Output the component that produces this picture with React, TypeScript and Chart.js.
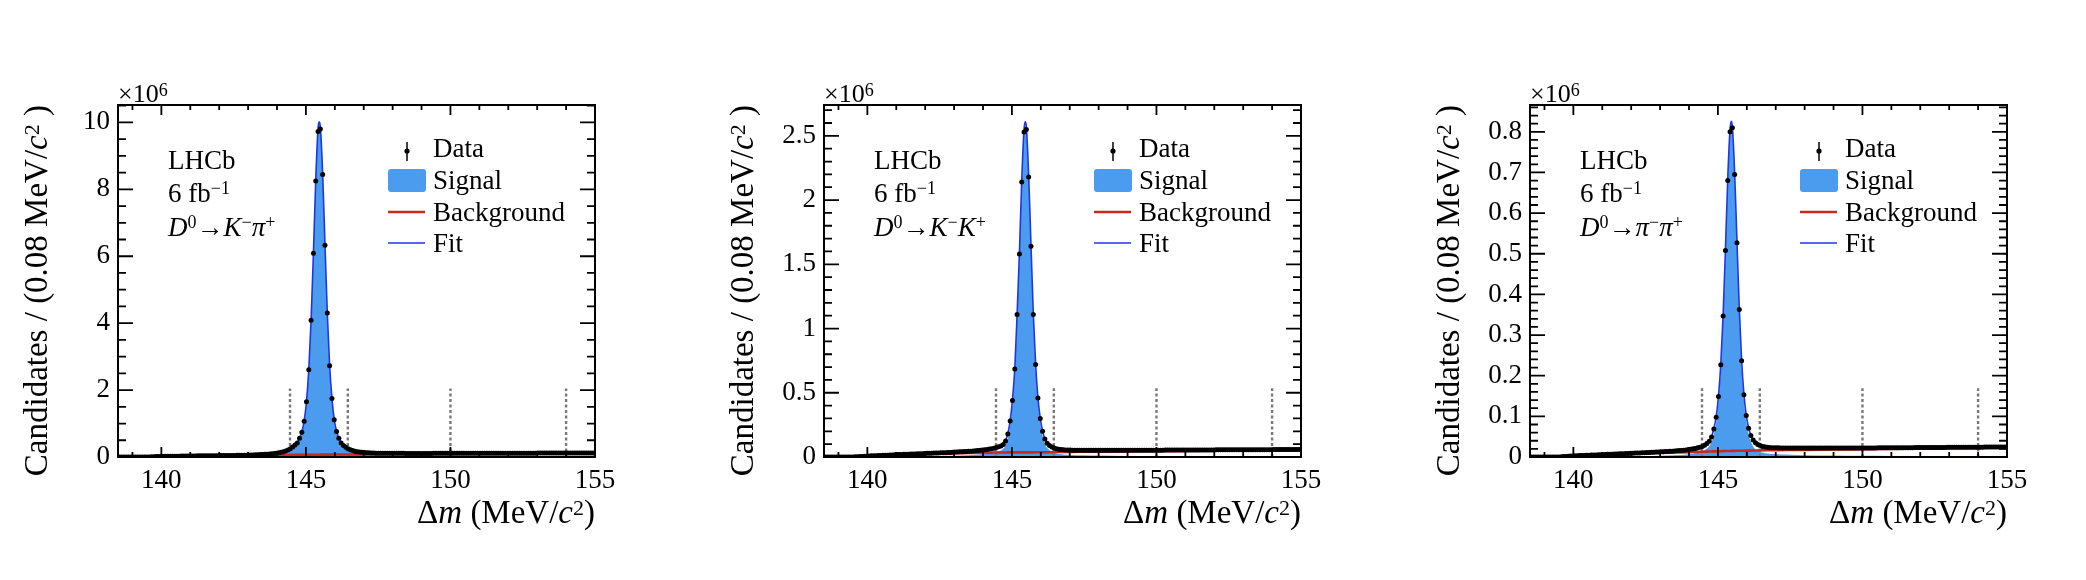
import React, { useEffect, useRef } from 'react';
import { Chart, registerables } from 'chart.js';

Chart.register(...registerables);

// ---------- data (candidates per 0.08 MeV/c^2, in units of 10^6) ----------
const BIN_START = 138.54;
const BIN_WIDTH = 0.08;
const X_MIN = 138.5;
const X_MAX = 155;
const X_TICKS = [140, 145, 150, 155];
const CUT_LINES = [144.45, 146.45, 150, 154];

const DATA_KPI = [
  0, 0, 0, 0, 0, 0, 0, 0, 0, 0,
  0, 0, 0, 0.002, 0.006, 0.009, 0.012, 0.014, 0.016, 0.018,
  0.019, 0.021, 0.022, 0.023, 0.024, 0.025, 0.026, 0.027, 0.028, 0.029,
  0.030, 0.031, 0.032, 0.033, 0.034, 0.034, 0.035, 0.036, 0.037, 0.038,
  0.038, 0.039, 0.040, 0.041, 0.042, 0.043, 0.044, 0.045, 0.046, 0.047,
  0.048, 0.049, 0.051, 0.052, 0.054, 0.056, 0.058, 0.060, 0.062, 0.065,
  0.068, 0.071, 0.075, 0.079, 0.084, 0.090, 0.097, 0.105, 0.115, 0.127,
  0.142, 0.160, 0.183, 0.212, 0.250, 0.300, 0.356, 0.420, 0.560, 0.740,
  1.070, 1.650, 2.610, 4.090, 6.090, 8.250, 9.730, 9.800, 8.440, 6.330,
  4.300, 2.730, 1.750, 1.110, 0.760, 0.560, 0.420, 0.345, 0.290, 0.248,
  0.216, 0.192, 0.174, 0.160, 0.149, 0.140, 0.133, 0.128, 0.124, 0.120,
  0.117, 0.115, 0.113, 0.112, 0.112, 0.111, 0.111, 0.110, 0.110, 0.110,
  0.109, 0.109, 0.109, 0.109, 0.108, 0.108, 0.108, 0.108, 0.108, 0.108,
  0.108, 0.108, 0.108, 0.108, 0.108, 0.108, 0.109, 0.109, 0.109, 0.109,
  0.109, 0.109, 0.109, 0.109, 0.109, 0.110, 0.110, 0.110, 0.110, 0.110,
  0.110, 0.110, 0.111, 0.111, 0.111, 0.111, 0.111, 0.111, 0.112, 0.112,
  0.112, 0.112, 0.112, 0.112, 0.113, 0.113, 0.113, 0.113, 0.113, 0.113,
  0.114, 0.114, 0.114, 0.114, 0.114, 0.115, 0.115, 0.115, 0.115, 0.115,
  0.115, 0.116, 0.116, 0.116, 0.116, 0.116, 0.116, 0.116, 0.117, 0.117,
  0.117, 0.117, 0.117, 0.117, 0.117, 0.117, 0.118, 0.118, 0.118, 0.118,
  0.118, 0.119, 0.119, 0.119, 0.119, 0.119,
];

const DATA_KK = [
  0, 0, 0, 0, 0, 0, 0, 0, 0, 0,
  0, 0, 0, 0.001, 0.002, 0.003, 0.004, 0.005, 0.006, 0.008,
  0.009, 0.009, 0.010, 0.011, 0.012, 0.013, 0.013, 0.014, 0.015, 0.016,
  0.017, 0.019, 0.019, 0.020, 0.021, 0.021, 0.022, 0.023, 0.023, 0.024,
  0.025, 0.025, 0.026, 0.027, 0.029, 0.029, 0.030, 0.031, 0.031, 0.032,
  0.033, 0.034, 0.034, 0.035, 0.036, 0.037, 0.038, 0.039, 0.040, 0.041,
  0.042, 0.043, 0.044, 0.045, 0.047, 0.048, 0.050, 0.052, 0.054, 0.057,
  0.059, 0.062, 0.065, 0.069, 0.074, 0.080, 0.086, 0.098, 0.125, 0.180,
  0.280, 0.440, 0.685, 1.110, 1.580, 2.140, 2.530, 2.550, 2.180, 1.640,
  1.110, 0.720, 0.460, 0.300, 0.200, 0.140, 0.108, 0.090, 0.078, 0.070,
  0.065, 0.061, 0.058, 0.056, 0.055, 0.054, 0.054, 0.053, 0.053, 0.053,
  0.053, 0.053, 0.052, 0.052, 0.052, 0.052, 0.052, 0.052, 0.052, 0.052,
  0.052, 0.052, 0.052, 0.052, 0.052, 0.052, 0.052, 0.052, 0.052, 0.052,
  0.052, 0.052, 0.052, 0.053, 0.053, 0.053, 0.053, 0.053, 0.053, 0.053,
  0.053, 0.053, 0.053, 0.053, 0.053, 0.053, 0.053, 0.054, 0.054, 0.054,
  0.054, 0.054, 0.054, 0.054, 0.054, 0.054, 0.054, 0.055, 0.055, 0.055,
  0.055, 0.055, 0.055, 0.055, 0.055, 0.055, 0.055, 0.055, 0.055, 0.056,
  0.056, 0.056, 0.056, 0.056, 0.056, 0.056, 0.056, 0.056, 0.056, 0.056,
  0.056, 0.056, 0.057, 0.057, 0.057, 0.057, 0.057, 0.057, 0.057, 0.057,
  0.057, 0.057, 0.057, 0.057, 0.058, 0.058, 0.058, 0.058, 0.058, 0.058,
  0.058, 0.058, 0.058, 0.058, 0.058, 0.058,
];

const DATA_PIPI = [
  0, 0, 0, 0, 0, 0, 0, 0, 0, 0,
  0, 0, 0, 0.0005, 0.001, 0.0015, 0.0019, 0.0022, 0.0025, 0.0029,
  0.0031, 0.0034, 0.0036, 0.0039, 0.0042, 0.0045, 0.0047, 0.005, 0.0052, 0.0055,
  0.0058, 0.0062, 0.0064, 0.0066, 0.0068, 0.007, 0.0073, 0.0076, 0.0078, 0.008,
  0.0083, 0.0086, 0.0088, 0.0091, 0.0094, 0.0096, 0.0099, 0.0101, 0.0104, 0.0107,
  0.011, 0.0113, 0.0116, 0.0119, 0.0122, 0.0125, 0.0128, 0.0131, 0.0134, 0.0137,
  0.014, 0.0144, 0.0148, 0.0152, 0.0157, 0.0162, 0.0168, 0.0174, 0.0182, 0.0191,
  0.0201, 0.0212, 0.0225, 0.024, 0.026, 0.0288, 0.033, 0.039, 0.049, 0.069,
  0.098, 0.149, 0.227, 0.347, 0.508, 0.680, 0.800, 0.810, 0.695, 0.527,
  0.363, 0.237, 0.153, 0.102, 0.071, 0.053, 0.042, 0.035, 0.031, 0.028,
  0.026, 0.025, 0.024, 0.0235, 0.023, 0.0228, 0.0226, 0.0225, 0.0224, 0.0223,
  0.0223, 0.0222, 0.0222, 0.0222, 0.0221, 0.0221, 0.0221, 0.0221, 0.022, 0.022,
  0.022, 0.022, 0.022, 0.022, 0.022, 0.022, 0.022, 0.022, 0.022, 0.022,
  0.022, 0.022, 0.022, 0.022, 0.0221, 0.0221, 0.0221, 0.0221, 0.0221, 0.0222,
  0.0222, 0.0222, 0.0222, 0.0222, 0.0223, 0.0223, 0.0223, 0.0224, 0.0224, 0.0224,
  0.0225, 0.0225, 0.0226, 0.0226, 0.0226, 0.0227, 0.0227, 0.0227, 0.0228, 0.0228,
  0.0228, 0.0229, 0.0229, 0.023, 0.023, 0.023, 0.0231, 0.0231, 0.0232, 0.0232,
  0.0232, 0.0233, 0.0233, 0.0234, 0.0234, 0.0235, 0.0235, 0.0235, 0.0236, 0.0236,
  0.0237, 0.0237, 0.0237, 0.0238, 0.0238, 0.0238, 0.0239, 0.0239, 0.024, 0.024,
  0.024, 0.0241, 0.0241, 0.0241, 0.0242, 0.0242, 0.0243, 0.0243, 0.0243, 0.0244,
  0.0244, 0.0244, 0.0245, 0.0245, 0.0245, 0.0246,
];

// fit model sampled at these Δm values
const CURVE_X = [
  138.5, 139.57, 140, 140.5, 141, 141.5, 142, 142.5, 143, 143.5,
  144, 144.3, 144.5, 144.62, 144.7, 144.78, 144.86, 144.94, 145.02, 145.1,
  145.18, 145.26, 145.34, 145.42, 145.46, 145.5, 145.58, 145.66, 145.74, 145.82,
  145.9, 145.98, 146.06, 146.14, 146.22, 146.3, 146.45, 146.7, 147, 147.5,
  148, 149, 150, 151, 152, 153, 154, 155,
];

const FIT_KPI = [
  0, 0, 0.017, 0.025, 0.031, 0.036, 0.041, 0.047, 0.057, 0.075,
  0.118, 0.183, 0.27, 0.356, 0.43, 0.56, 0.75, 1.08, 1.66, 2.62,
  4.10, 6.10, 8.28, 9.82, 10.02, 9.86, 8.45, 6.34, 4.30, 2.74,
  1.76, 1.12, 0.77, 0.565, 0.43, 0.345, 0.255, 0.178, 0.137, 0.115,
  0.110, 0.108, 0.109, 0.111, 0.113, 0.115, 0.117, 0.119,
];
const BKG_KPI = [
  0, 0, 0.016, 0.022, 0.028, 0.033, 0.038, 0.043, 0.048, 0.053,
  0.058, 0.061, 0.063, 0.064, 0.065, 0.065, 0.066, 0.066, 0.067, 0.067,
  0.068, 0.068, 0.069, 0.069, 0.069, 0.070, 0.070, 0.071, 0.071, 0.072,
  0.072, 0.073, 0.073, 0.074, 0.074, 0.075, 0.076, 0.077, 0.079, 0.082,
  0.085, 0.089, 0.093, 0.097, 0.101, 0.105, 0.108, 0.112,
];
const SIG_KPI = [
  0, 0, 0.001, 0.003, 0.003, 0.003, 0.003, 0.004, 0.009, 0.022,
  0.060, 0.122, 0.207, 0.292, 0.365, 0.495, 0.684, 1.014, 1.593, 2.553,
  4.032, 6.032, 8.211, 9.751, 9.951, 9.790, 8.380, 6.269, 4.229, 2.668,
  1.688, 1.047, 0.697, 0.491, 0.356, 0.270, 0.179, 0.101, 0.058, 0.033,
  0.025, 0.019, 0.016, 0.014, 0.012, 0.010, 0.009, 0.007,
];

const FIT_KK = [
  0, 0, 0.008, 0.013, 0.019, 0.024, 0.029, 0.034, 0.038, 0.044,
  0.056, 0.065, 0.077, 0.086, 0.099, 0.127, 0.182, 0.282, 0.445, 0.690,
  1.115, 1.590, 2.150, 2.550, 2.610, 2.570, 2.190, 1.650, 1.115, 0.725,
  0.462, 0.302, 0.202, 0.141, 0.108, 0.090, 0.072, 0.060, 0.056, 0.054,
  0.053, 0.052, 0.053, 0.054, 0.055, 0.056, 0.057, 0.058,
];
const BKG_KK = [
  0, 0, 0.007, 0.012, 0.016, 0.020, 0.023, 0.026, 0.029, 0.031,
  0.033, 0.034, 0.035, 0.035, 0.035, 0.035, 0.036, 0.036, 0.036, 0.036,
  0.036, 0.036, 0.036, 0.036, 0.036, 0.036, 0.036, 0.036, 0.036, 0.037,
  0.037, 0.037, 0.037, 0.037, 0.037, 0.037, 0.038, 0.039, 0.040, 0.041,
  0.042, 0.044, 0.046, 0.048, 0.050, 0.052, 0.054, 0.055,
];
const SIG_KK = [
  0, 0, 0.001, 0.001, 0.003, 0.004, 0.006, 0.008, 0.009, 0.013,
  0.023, 0.031, 0.042, 0.051, 0.064, 0.092, 0.146, 0.246, 0.409, 0.654,
  1.079, 1.554, 2.114, 2.514, 2.574, 2.534, 2.154, 1.614, 1.079, 0.688,
  0.425, 0.265, 0.165, 0.104, 0.071, 0.053, 0.034, 0.021, 0.016, 0.013,
  0.011, 0.008, 0.007, 0.006, 0.005, 0.004, 0.003, 0.003,
];

const FIT_PIPI = [
  0, 0, 0.003, 0.005, 0.0065, 0.008, 0.0095, 0.011, 0.013, 0.015,
  0.019, 0.023, 0.028, 0.034, 0.040, 0.050, 0.070, 0.099, 0.150, 0.229,
  0.349, 0.510, 0.684, 0.806, 0.826, 0.813, 0.697, 0.529, 0.364, 0.238,
  0.154, 0.103, 0.072, 0.054, 0.042, 0.035, 0.029, 0.025, 0.0235, 0.0228,
  0.0222, 0.022, 0.0222, 0.0227, 0.0232, 0.0237, 0.0241, 0.0245,
];
const BKG_PIPI = [
  0, 0, 0.0028, 0.0045, 0.0058, 0.007, 0.008, 0.009, 0.010, 0.011,
  0.012, 0.0125, 0.013, 0.0133, 0.0135, 0.0137, 0.0139, 0.014, 0.0142, 0.0143,
  0.0145, 0.0146, 0.0148, 0.0149, 0.015, 0.015, 0.0151, 0.0152, 0.0153, 0.0154,
  0.0155, 0.0156, 0.0157, 0.0158, 0.0159, 0.016, 0.0162, 0.0165, 0.0168, 0.0172,
  0.0176, 0.0184, 0.0192, 0.0200, 0.0208, 0.0216, 0.0224, 0.0232,
];
const SIG_PIPI = [
  0, 0, 0.0002, 0.0005, 0.0007, 0.001, 0.0015, 0.002, 0.003, 0.004,
  0.007, 0.0105, 0.015, 0.0207, 0.0265, 0.0363, 0.0561, 0.085, 0.1358, 0.2147,
  0.3345, 0.4954, 0.6692, 0.7911, 0.811, 0.798, 0.6819, 0.5138, 0.3487, 0.2226,
  0.1385, 0.0874, 0.0563, 0.0382, 0.0261, 0.019, 0.0128, 0.0085, 0.0067, 0.0056,
  0.0046, 0.0036, 0.003, 0.0027, 0.0024, 0.0021, 0.0017, 0.0013,
];

const Y_MAX = [10.52, 2.74, 0.866];
const Y_TICKS_KPI = [0, 2, 4, 6, 8, 10];
const Y_LABELS_KPI = ['0', '2', '4', '6', '8', '10'];
const Y_TICKS_KK = [0, 0.5, 1, 1.5, 2, 2.5];
const Y_LABELS_KK = ['0', '0.5', '1', '1.5', '2', '2.5'];
const Y_TICKS_PIPI = [0, 0.1, 0.2, 0.3, 0.4, 0.5, 0.6, 0.7, 0.8];
const Y_LABELS_PIPI = ['0', '0.1', '0.2', '0.3', '0.4', '0.5', '0.6', '0.7', '0.8'];
const Y_MINOR_STEP = [0.5, 0.1, 0.02];
const CUT_HEIGHT = [2.05, 0.536, 0.169];

type Seg = { t: string; i?: boolean; sup?: boolean };
const DECAY_KPI: Seg[] = [{ t: 'D', i: true }, { t: '0', sup: true }, { t: '→' }, { t: 'K', i: true }, { t: '−', sup: true }, { t: 'π', i: true }, { t: '+', sup: true }];
const DECAY_KK: Seg[] = [{ t: 'D', i: true }, { t: '0', sup: true }, { t: '→' }, { t: 'K', i: true }, { t: '−', sup: true }, { t: 'K', i: true }, { t: '+', sup: true }];
const DECAY_PIPI: Seg[] = [{ t: 'D', i: true }, { t: '0', sup: true }, { t: '→' }, { t: 'π', i: true }, { t: '−', sup: true }, { t: 'π', i: true }, { t: '+', sup: true }];

const LEGEND_LABELS = ['Data', 'Signal', 'Background', 'Fit'];

// ---------- styles ----------
const FONT = '"Liberation Serif", "Times New Roman", "DejaVu Serif", serif';
const SIGNAL_COLOR = '#4b9cee';
const FIT_COLOR = '#1f36e0';
const BKG_COLOR = '#c8281e';
const CUT_COLOR = '#787878';

const CANVAS_W = 674;
const CANVAS_H = 580;
const PANEL_OFFSET = [0, 706, 1412];

function drawRich(ctx: CanvasRenderingContext2D, segs: Seg[], x: number, y: number, size: number, align: 'left' | 'right', raise = 0.3) {
  const supSize = Math.round(size * 0.68);
  const fontFor = (s: Seg) => `${s.i ? 'italic ' : ''}${s.sup ? supSize : size}px ${FONT}`;
  let w = 0;
  for (const s of segs) {
    ctx.font = fontFor(s);
    w += ctx.measureText(s.t).width;
  }
  let cx = align === 'right' ? x - w : x;
  ctx.textAlign = 'left';
  ctx.textBaseline = 'alphabetic';
  for (const s of segs) {
    ctx.font = fontFor(s);
    ctx.fillText(s.t, cx, s.sup ? y - size * raise : y);
    cx += ctx.measureText(s.t).width;
  }
}

type Panel = {
  data: number[];
  fit: number[];
  bkg: number[];
  sig: number[];
  yMax: number;
  yTicks: number[];
  yLabels: string[];
  yMinor: number;
  cutH: number;
  decay: Seg[];
  offset: number;
};

const PANELS: Panel[] = [
  { data: DATA_KPI, fit: FIT_KPI, bkg: BKG_KPI, sig: SIG_KPI, yMax: Y_MAX[0], yTicks: Y_TICKS_KPI, yLabels: Y_LABELS_KPI, yMinor: Y_MINOR_STEP[0], cutH: CUT_HEIGHT[0], decay: DECAY_KPI, offset: PANEL_OFFSET[0] },
  { data: DATA_KK, fit: FIT_KK, bkg: BKG_KK, sig: SIG_KK, yMax: Y_MAX[1], yTicks: Y_TICKS_KK, yLabels: Y_LABELS_KK, yMinor: Y_MINOR_STEP[1], cutH: CUT_HEIGHT[1], decay: DECAY_KK, offset: PANEL_OFFSET[1] },
  { data: DATA_PIPI, fit: FIT_PIPI, bkg: BKG_PIPI, sig: SIG_PIPI, yMax: Y_MAX[2], yTicks: Y_TICKS_PIPI, yLabels: Y_LABELS_PIPI, yMinor: Y_MINOR_STEP[2], cutH: CUT_HEIGHT[2], decay: DECAY_PIPI, offset: PANEL_OFFSET[2] },
];

function makeConfig(p: Panel): any {
  const curve = (vals: number[]) => CURVE_X.map((x, i) => ({ x, y: vals[i] }));
  const cutSets = CUT_LINES.map((c) => ({
    type: 'line',
    data: [{ x: c, y: 0 }, { x: c, y: p.cutH }],
    borderColor: CUT_COLOR,
    borderWidth: 2.4,
    borderDash: [3, 2.5],
    pointRadius: 0,
    fill: false,
    order: 3,
  }));

  const overlay = {
    id: 'overlay',
    afterDraw(chart: any) {
      const ctx: CanvasRenderingContext2D = chart.ctx;
      const a = chart.chartArea;
      const xs = chart.scales.x;
      const ys = chart.scales.y;
      ctx.save();
      ctx.strokeStyle = '#000';
      ctx.fillStyle = '#000';
      // ticks (inward, all four sides)
      ctx.lineWidth = 1.8;
      ctx.beginPath();
      for (let v = Math.ceil(X_MIN); v <= X_MAX; v++) {
        const px = xs.getPixelForValue(v);
        const len = X_TICKS.includes(v) ? 10 : 5;
        ctx.moveTo(px, a.bottom);
        ctx.lineTo(px, a.bottom - len);
        ctx.moveTo(px, a.top);
        ctx.lineTo(px, a.top + len);
      }
      const n = Math.floor(p.yMax / p.yMinor + 1e-6);
      for (let i = 0; i <= n; i++) {
        const v = i * p.yMinor;
        const py = ys.getPixelForValue(v);
        const major = p.yTicks.some((t) => Math.abs(t - v) < 1e-6);
        const len = major ? 15 : 8;
        ctx.moveTo(a.left, py);
        ctx.lineTo(a.left + len, py);
        ctx.moveTo(a.right, py);
        ctx.lineTo(a.right - len, py);
      }
      ctx.stroke();
      // frame
      ctx.lineWidth = 2;
      ctx.strokeRect(a.left, a.top, a.right - a.left, a.bottom - a.top);

      // exponent
      drawRich(ctx, [{ t: '×10' }, { t: '6', sup: true }], a.left, a.top - 3, 26, 'left', 0.24);

      // axis titles
      drawRich(ctx, [{ t: 'Δ' }, { t: 'm', i: true }, { t: ' (MeV/' }, { t: 'c', i: true }, { t: '2', sup: true }, { t: ')' }], a.right, 523, 33, 'right', 0.24);
      ctx.save();
      ctx.translate(47, a.top);
      ctx.rotate(-Math.PI / 2);
      drawRich(ctx, [{ t: 'Candidates / (0.08 MeV/' }, { t: 'c', i: true }, { t: '2', sup: true }, { t: ' )' }], 0, 0, 33, 'right', 0.24);
      ctx.restore();

      // experiment labels
      const tx = a.left + 50;
      drawRich(ctx, [{ t: 'LHCb' }], tx, a.top + 64, 27, 'left');
      drawRich(ctx, [{ t: '6 fb' }, { t: '−1', sup: true }], tx, a.top + 97, 27, 'left');
      drawRich(ctx, p.decay, tx, a.top + 131, 27, 'left');

      // legend
      const lx = a.left + 270;
      const lw = 38;
      const textX = a.left + 315;
      // Data
      ctx.lineWidth = 1.5;
      ctx.beginPath();
      ctx.moveTo(lx + lw / 2, a.top + 37);
      ctx.lineTo(lx + lw / 2, a.top + 56);
      ctx.stroke();
      ctx.beginPath();
      ctx.arc(lx + lw / 2, a.top + 46, 2.6, 0, Math.PI * 2);
      ctx.fill();
      // Signal
      ctx.fillStyle = SIGNAL_COLOR;
      ctx.beginPath();
      (ctx as any).roundRect(lx, a.top + 64, lw, 23, 3);
      ctx.fill();
      // Background
      ctx.strokeStyle = BKG_COLOR;
      ctx.lineWidth = 2.6;
      ctx.beginPath();
      ctx.moveTo(lx, a.top + 107);
      ctx.lineTo(lx + lw - 1, a.top + 107);
      ctx.stroke();
      // Fit
      ctx.strokeStyle = FIT_COLOR;
      ctx.lineWidth = 1.6;
      ctx.beginPath();
      ctx.moveTo(lx, a.top + 138);
      ctx.lineTo(lx + lw - 1, a.top + 138);
      ctx.stroke();
      ctx.fillStyle = '#000';
      const rows = [52, 84, 116, 147];
      LEGEND_LABELS.forEach((t, i) => drawRich(ctx, [{ t }], textX, a.top + rows[i], 27, 'left'));
      ctx.restore();
    },
  };

  return {
    type: 'scatter',
    data: {
      datasets: [
        {
          label: 'Data',
          data: p.data.map((y, i) => ({ x: BIN_START + BIN_WIDTH * i, y })),
          pointRadius: 2.5,
          pointBackgroundColor: '#000',
          pointBorderWidth: 0,
          showLine: false,
          order: 0,
        },
        {
          type: 'line',
          label: 'Fit',
          data: curve(p.fit),
          borderColor: FIT_COLOR,
          borderWidth: 1.6,
          pointRadius: 0,
          cubicInterpolationMode: 'monotone',
          fill: false,
          order: 1,
        },
        {
          type: 'line',
          label: 'Background',
          data: curve(p.bkg),
          borderColor: BKG_COLOR,
          borderWidth: 2.6,
          pointRadius: 0,
          cubicInterpolationMode: 'monotone',
          fill: false,
          order: 2,
        },
        ...cutSets,
        {
          type: 'line',
          label: 'Signal',
          data: curve(p.sig),
          borderColor: 'rgba(0,0,0,0)',
          borderWidth: 0,
          backgroundColor: SIGNAL_COLOR,
          pointRadius: 0,
          cubicInterpolationMode: 'monotone',
          fill: 'origin',
          order: 4,
        },
      ],
    },
    options: {
      animation: false,
      responsive: false,
      events: [],
      layout: { padding: { left: 0, top: 105, right: CANVAS_W - 595, bottom: 0 } },
      plugins: { legend: { display: false }, tooltip: { enabled: false }, title: { display: false } },
      scales: {
        x: {
          type: 'linear',
          min: X_MIN,
          max: X_MAX,
          grid: { display: false, drawTicks: false },
          border: { display: false },
          afterBuildTicks: (s: any) => { s.ticks = X_TICKS.map((value) => ({ value })); },
          afterFit: (s: any) => { s.height = CANVAS_H - 457; },
          ticks: {
            autoSkip: false,
            maxRotation: 0,
            padding: 8,
            color: '#000',
            font: { family: FONT, size: 27 },
            callback: (v: any) => String(v),
          },
        },
        y: {
          type: 'linear',
          min: 0,
          max: p.yMax,
          grid: { display: false, drawTicks: false },
          border: { display: false },
          afterBuildTicks: (s: any) => { s.ticks = p.yTicks.map((value) => ({ value })); },
          afterFit: (s: any) => { s.width = 118; },
          ticks: {
            autoSkip: false,
            padding: 8,
            color: '#000',
            font: { family: FONT, size: 27 },
            callback: (_v: any, i: number) => p.yLabels[i],
          },
        },
      },
    },
    plugins: [overlay],
  };
}

function PanelChart({ p }: { p: Panel }) {
  const ref = useRef<HTMLCanvasElement | null>(null);
  useEffect(() => {
    if (!ref.current) return;
    const chart = new Chart(ref.current, makeConfig(p));
    return () => chart.destroy();
  }, [p]);
  return (
    <canvas
      ref={ref}
      width={CANVAS_W}
      height={CANVAS_H}
      style={{ position: 'absolute', left: p.offset, top: 0, width: CANVAS_W, height: CANVAS_H }}
    />
  );
}

export default function App() {
  return (
    <div style={{ position: 'absolute', left: 0, top: 0, width: 2086, height: 580, background: '#fff', overflow: 'hidden' }}>
      {PANELS.map((p, i) => (
        <PanelChart key={i} p={p} />
      ))}
    </div>
  );
}
